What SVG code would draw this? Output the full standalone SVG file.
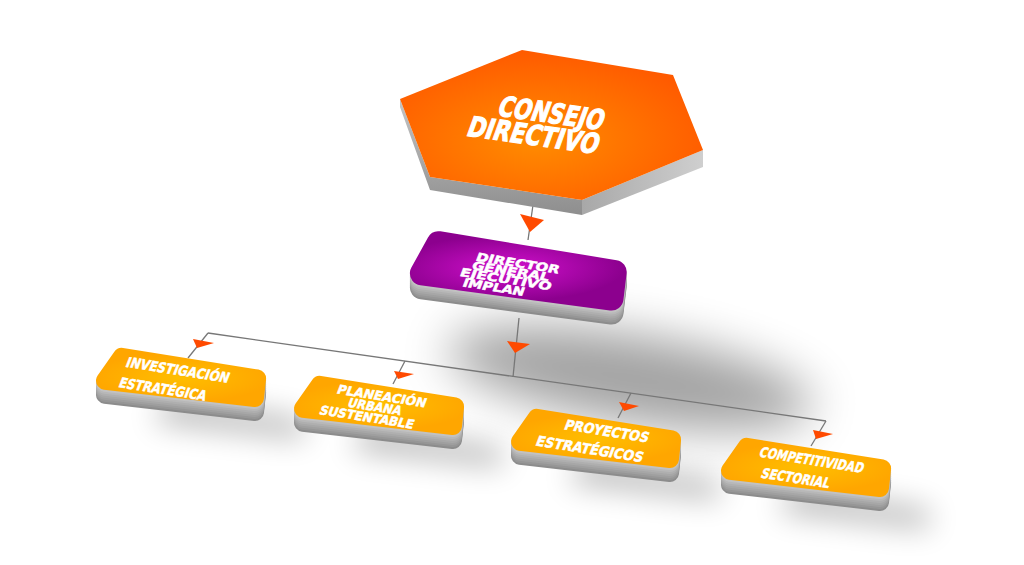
<svg xmlns="http://www.w3.org/2000/svg" width="1024" height="565" viewBox="0 0 1024 565">
<style>
.t{fill:#fff;stroke:#fff;stroke-width:0.5;font-family:"DejaVu Sans","Liberation Sans",sans-serif;font-weight:bold;text-anchor:middle}
.tb{stroke-width:1.1}
.ln{stroke:#777;stroke-width:1.3;fill:none}
.ar{fill:#ff4a00}
.lf use,.dr use{stroke-linejoin:round}
.lf use{stroke-width:18}
.dr use{stroke-width:24}
.s7{fill:#8c8c8c;stroke:#8c8c8c}
.s6{fill:#969696;stroke:#969696}
.s5{fill:#9f9f9f;stroke:#9f9f9f}
.s4{fill:#a7a7a7;stroke:#a7a7a7}
.s3{fill:#afafaf;stroke:#afafaf}
.s2{fill:#b8b8b8;stroke:#b8b8b8}
.s1{fill:#c2c2c2;stroke:#c2c2c2}
.top{fill:url(#gL);stroke:url(#gL)}
.topd{fill:url(#gD);stroke:url(#gD)}
.sh{fill:#000;opacity:.28;filter:url(#bl)}
</style>
<defs>
<radialGradient id="gH" cx="0.45" cy="0.6" r="0.6"><stop offset="0" stop-color="#ff8c00"/><stop offset="1" stop-color="#ff5a00"/></radialGradient>
<radialGradient id="gD" cx="0.45" cy="0.45" r="0.6"><stop offset="0" stop-color="#d010cc"/><stop offset="1" stop-color="#8c008e"/></radialGradient>
<radialGradient id="gL" cx="0.5" cy="0.5" r="0.6"><stop offset="0" stop-color="#ffbe00"/><stop offset="1" stop-color="#ffa600"/></radialGradient>
<linearGradient id="gS1" x1="0" y1="0" x2="0" y2="1"><stop offset="0" stop-color="#c4c4c4"/><stop offset="1" stop-color="#8e8e8e"/></linearGradient>
<linearGradient id="gS2" x1="0" y1="0" x2="1" y2="0"><stop offset="0" stop-color="#a8a8a8"/><stop offset="1" stop-color="#cfcfcf"/></linearGradient>
<filter id="bl" x="-50%" y="-80%" width="200%" height="260%"><feGaussianBlur stdDeviation="15"/></filter>
<filter id="bl2" x="-50%" y="-80%" width="200%" height="260%"><feGaussianBlur stdDeviation="24"/></filter>
<polygon id="leaf" points="4.7,9.9 140.1,31.5 138,51 -12,33.7"/>
<polygon id="dirp" points="438.5,243.2 614.7,272 611.5,298.5 421.9,273.4"/>
</defs>
<rect width="1024" height="565" fill="#fff"/>
<g id="shadows">
<ellipse cx="630" cy="378" rx="185" ry="44" transform="rotate(9 630 378)" fill="#000" opacity="0.36" filter="url(#bl2)"/>
<use href="#leaf" x="165" y="388" class="sh"/>
<use href="#leaf" x="363" y="416" class="sh"/>
<use href="#leaf" x="580" y="449" class="sh"/>
<use href="#leaf" x="790" y="478" class="sh"/>
</g>
<g id="connectors">
<line class="ln" x1="533" y1="205" x2="528" y2="240"/>
<line class="ln" x1="519" y1="318" x2="513" y2="377"/>
<line class="ln" x1="208" y1="333" x2="826" y2="421"/>
<line class="ln" x1="208" y1="333" x2="188" y2="358"/>
<line class="ln" x1="405" y1="361" x2="393" y2="384"/>
<line class="ln" x1="631" y1="393" x2="618" y2="418"/>
<line class="ln" x1="826" y1="421" x2="811" y2="446"/>
<polygon class="ar" points="520,214 544,220 530,232"/>
<polygon class="ar" points="507,341 530,344 515,353"/>
<polygon class="ar" points="193,339 214,343 197,348"/>
<polygon class="ar" points="394,371 414,374 398,379"/>
<polygon class="ar" points="619,402 639,406 624,411"/>
<polygon class="ar" points="813,430 833,434 816,439"/>
</g>
<g id="consejo">
<polygon points="400,99 430,177 582,200 582,215 430,190 400,107" fill="url(#gS1)"/>
<polygon points="582,200 703,150 703,167 582,215" fill="url(#gS2)"/>
<polygon points="522,50 673,75 703,150 582,200 430,177 400,99" fill="url(#gH)"/>
<text class="t tb" font-size="28" textLength="106" lengthAdjust="spacingAndGlyphs" transform="translate(552,113) rotate(8) skewX(-12)" y="10">CONSEJO</text>
<text class="t tb" font-size="28" textLength="132" lengthAdjust="spacingAndGlyphs" transform="translate(534,135) rotate(8) skewX(-12)" y="10">DIRECTIVO</text>
</g>
<g id="director" class="dr">
<use href="#dirp" y="14" class="s7"/>
<use href="#dirp" y="12" class="s6"/>
<use href="#dirp" y="10" class="s5"/>
<use href="#dirp" y="8" class="s4"/>
<use href="#dirp" y="6" class="s3"/>
<use href="#dirp" y="4" class="s2"/>
<use href="#dirp" y="2" class="s1"/>
<use href="#dirp" class="topd"/>
<text class="t" font-size="11.5" textLength="84" lengthAdjust="spacingAndGlyphs" transform="translate(518,263) rotate(9) skewX(-12)" y="4.2">DIRECTOR</text>
<text class="t" font-size="11.5" textLength="78" lengthAdjust="spacingAndGlyphs" transform="translate(511,271) rotate(9) skewX(-12)" y="4.2">GENERAL</text>
<text class="t" font-size="11.5" textLength="92" lengthAdjust="spacingAndGlyphs" transform="translate(506,279) rotate(9) skewX(-12)" y="4.2">EJECUTIVO</text>
<text class="t" font-size="11.5" textLength="62" lengthAdjust="spacingAndGlyphs" transform="translate(494,287) rotate(9) skewX(-12)" y="4.2">IMPLAN</text>
</g>
<g id="investigacion">
<g class="lf" transform="translate(117,347)">
<use href="#leaf" y="14" class="s7"/>
<use href="#leaf" y="12" class="s6"/>
<use href="#leaf" y="10" class="s5"/>
<use href="#leaf" y="8" class="s4"/>
<use href="#leaf" y="6" class="s3"/>
<use href="#leaf" y="4" class="s2"/>
<use href="#leaf" y="2" class="s1"/>
<use href="#leaf" class="top"/>
</g>
<text class="t" font-size="14" textLength="104" lengthAdjust="spacingAndGlyphs" transform="translate(178,370) rotate(9) skewX(-12)" y="5">INVESTIGACIÓN</text>
<text class="t" font-size="14" textLength="88" lengthAdjust="spacingAndGlyphs" transform="translate(163,389) rotate(9) skewX(-12)" y="5">ESTRATÉGICA</text>
</g>
<g id="planeacion">
<g class="lf" transform="translate(315,375)">
<use href="#leaf" y="14" class="s7"/>
<use href="#leaf" y="12" class="s6"/>
<use href="#leaf" y="10" class="s5"/>
<use href="#leaf" y="8" class="s4"/>
<use href="#leaf" y="6" class="s3"/>
<use href="#leaf" y="4" class="s2"/>
<use href="#leaf" y="2" class="s1"/>
<use href="#leaf" class="top"/>
</g>
<text class="t" font-size="12.5" textLength="90" lengthAdjust="spacingAndGlyphs" transform="translate(382,396) rotate(9) skewX(-12)" y="4.5">PLANEACIÓN</text>
<text class="t" font-size="12.5" textLength="54" lengthAdjust="spacingAndGlyphs" transform="translate(375,406.5) rotate(9) skewX(-12)" y="4.5">URBANA</text>
<text class="t" font-size="12.5" textLength="95" lengthAdjust="spacingAndGlyphs" transform="translate(367,417) rotate(9) skewX(-12)" y="4.5">SUSTENTABLE</text>
</g>
<g id="proyectos">
<g class="lf" transform="translate(532,408)">
<use href="#leaf" y="14" class="s7"/>
<use href="#leaf" y="12" class="s6"/>
<use href="#leaf" y="10" class="s5"/>
<use href="#leaf" y="8" class="s4"/>
<use href="#leaf" y="6" class="s3"/>
<use href="#leaf" y="4" class="s2"/>
<use href="#leaf" y="2" class="s1"/>
<use href="#leaf" class="top"/>
</g>
<text class="t" font-size="14" textLength="85" lengthAdjust="spacingAndGlyphs" transform="translate(607,431) rotate(9) skewX(-12)" y="5">PROYECTOS</text>
<text class="t" font-size="14" textLength="108" lengthAdjust="spacingAndGlyphs" transform="translate(590,449) rotate(9) skewX(-12)" y="5">ESTRATÉGICOS</text>
</g>
<g id="competitividad">
<g class="lf" transform="translate(742,437)">
<use href="#leaf" y="14" class="s7"/>
<use href="#leaf" y="12" class="s6"/>
<use href="#leaf" y="10" class="s5"/>
<use href="#leaf" y="8" class="s4"/>
<use href="#leaf" y="6" class="s3"/>
<use href="#leaf" y="4" class="s2"/>
<use href="#leaf" y="2" class="s1"/>
<use href="#leaf" class="top"/>
</g>
<text class="t" font-size="14" textLength="105" lengthAdjust="spacingAndGlyphs" transform="translate(812,460) rotate(9) skewX(-12)" y="5">COMPETITIVIDAD</text>
<text class="t" font-size="14" textLength="69" lengthAdjust="spacingAndGlyphs" transform="translate(796,478) rotate(9) skewX(-12)" y="5">SECTORIAL</text>
</g>
</svg>
